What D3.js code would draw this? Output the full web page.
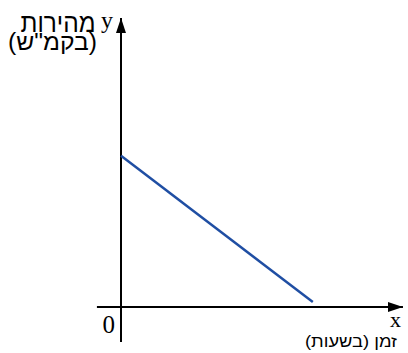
<!DOCTYPE html>
<html>
<head>
<meta charset="utf-8">
<script src="https://cdn.jsdelivr.net/npm/d3@7"></script>
<style>
  body { margin: 0; background: #fff; }
</style>
</head>
<body>
<div id="chart"></div>
<script>
// speed vs time, straight decreasing line
const timeVals = [0, 6.85];
const speedVals = [5.4, 0.18];

const xLabel = "זמן (בשעות)";
const yLabel1 = "מהירות";
const yLabel2 = "(בקמ\"ש)";

const width = 408, height = 353;

const svg = d3.select("#chart").append("svg")
  .attr("width", width)
  .attr("height", height);

const x = d3.scaleLinear().domain([0, 10]).range([121, 401]);
const y = d3.scaleLinear().domain([0, 10]).range([307, 27]);

// arrow heads
const defs = svg.append("defs");
defs.append("marker")
  .attr("id", "arrow")
  .attr("viewBox", "0 0 15 10")
  .attr("refX", 15)
  .attr("refY", 5)
  .attr("markerWidth", 15)
  .attr("markerHeight", 10)
  .attr("markerUnits", "userSpaceOnUse")
  .attr("orient", "auto")
  .append("path")
  .attr("d", "M0,0 L15,5 L0,10 Z")
  .attr("fill", "#000");

// x axis
svg.append("line")
  .attr("x1", x(-0.86)).attr("y1", y(0))
  .attr("x2", x(10.07)).attr("y2", y(0))
  .attr("stroke", "#000")
  .attr("stroke-width", 2)
  .attr("marker-end", "url(#arrow)");

// y axis
svg.append("line")
  .attr("x1", x(0)).attr("y1", y(-1.25))
  .attr("x2", x(0)).attr("y2", y(10.32))
  .attr("stroke", "#000")
  .attr("stroke-width", 2)
  .attr("marker-end", "url(#arrow)");

// the line
const line = d3.line()
  .x((d, i) => x(timeVals[i]))
  .y(d => y(d));

svg.append("path")
  .datum(speedVals)
  .attr("d", line)
  .attr("fill", "none")
  .attr("stroke", "#1f4ea3")
  .attr("stroke-width", 2.5);

// labels
const serif = "'Liberation Serif', 'Times New Roman', serif";
const sans = "'Liberation Sans', Arial, sans-serif";

svg.append("text")
  .attr("x", x(0) - 6).attr("y", 333)
  .attr("text-anchor", "end")
  .attr("font-family", serif)
  .attr("font-size", 25)
  .text("0");

svg.append("text")
  .attr("x", 395.5).attr("y", 327)
  .attr("text-anchor", "middle")
  .attr("font-family", serif)
  .attr("font-size", 22)
  .text("x");

svg.append("text")
  .attr("x", 107).attr("y", 28)
  .attr("text-anchor", "middle")
  .attr("font-family", serif)
  .attr("font-size", 24)
  .text("y");

svg.append("text")
  .attr("x", 58).attr("y", 32)
  .attr("text-anchor", "middle")
  .attr("direction", "rtl")
  .attr("font-family", sans)
  .attr("font-size", 27)
  .attr("textLength", 75)
  .attr("lengthAdjust", "spacingAndGlyphs")
  .text(yLabel1);

svg.append("text")
  .attr("x", 52.5).attr("y", 49.5)
  .attr("text-anchor", "middle")
  .attr("direction", "rtl")
  .attr("font-family", sans)
  .attr("font-size", 23)
  .attr("textLength", 89)
  .attr("lengthAdjust", "spacingAndGlyphs")
  .text(yLabel2);

svg.append("text")
  .attr("x", 351).attr("y", 347)
  .attr("text-anchor", "middle")
  .attr("direction", "rtl")
  .attr("font-family", sans)
  .attr("font-size", 16)
  .attr("textLength", 92)
  .attr("lengthAdjust", "spacingAndGlyphs")
  .text(xLabel);
</script>
</body>
</html>
